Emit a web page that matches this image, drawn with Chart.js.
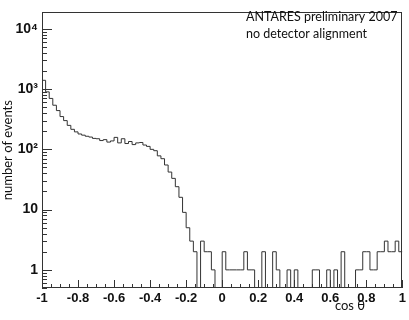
<!DOCTYPE html>
<html>
<head>
<meta charset="utf-8">
<script src="https://cdn.jsdelivr.net/npm/chart.js@4.4.0/dist/chart.umd.min.js"></script>
<style>
  html, body { margin: 0; padding: 0; background: #fff; }
  canvas { display: block; }
</style>
</head>
<body>
<canvas id="myChart" width="409" height="320"></canvas>
<script>
// histogram of cos(theta): 100 bins of 0.02 from -1 to 1
const binStart = -1;
const binWidth = 0.02;
const counts = [
  1400, 900, 700, 540, 440, 350, 300, 250, 215, 195,
  180, 172, 165, 160, 152, 150, 140, 145, 132, 138,
  158, 128, 150, 125, 135, 120, 128, 130, 118, 112,
  100, 95, 78, 70, 55, 42, 33, 24, 16, 9,
  5, 3, 2, 0, 3, 2, 2, 1, 0, 0,
  2, 1, 1, 1, 1, 1, 2, 1, 1, 0,
  0, 2, 0, 0, 2, 1, 0, 0, 1, 0,
  1, 0, 0, 0, 0, 1, 1, 0, 0, 1,
  0, 1, 0, 2, 0, 0, 0, 1, 1, 2,
  2, 1, 1, 2, 2, 3, 2, 2, 3, 2
];

// axes
const xMin = -1, xMax = 1, xStep = 0.2;
const yMin = 0.5, yMax = 18750;
const yTicks = [1, 10, 100, 1000, 10000];
const yTickLabels = ['1', '10', '10\u00B2', '10\u00B3', '10\u2074'];

const xTitle = 'cos \u03B8';
const yTitle = 'number of events';
const noteLines = ['ANTARES preliminary 2007', 'no detector alignment'];

document.addEventListener('DOMContentLoaded', function() {
  const ctx = document.getElementById('myChart').getContext('2d');

  // empty bins sit on the bottom of the log axis, like ROOT does
  const points = counts.map((c, i) => ({ x: binStart + i * binWidth, y: c > 0 ? c : yMin }));
  points.push({ x: binStart + counts.length * binWidth, y: points[points.length - 1].y });

  // ROOT-like frame, inner tick marks and texts
  const rootStyle = {
    id: 'rootStyle',
    afterDraw(chart) {
      const c = chart.ctx;
      const a = chart.chartArea;
      const sx = chart.scales.x, sy = chart.scales.y;
      c.save();
      c.strokeStyle = '#333';
      c.lineWidth = 1;
      c.strokeRect(Math.round(a.left) + 0.5, Math.round(a.top) + 0.5,
                   Math.round(a.right - a.left) - 1, Math.round(a.bottom - a.top) - 1);

      c.beginPath();
      for (let k = 0; k <= 40; k++) {
        const px = Math.round(sx.getPixelForValue(xMin + k * 0.05)) + 0.5;
        const len = k % 4 === 0 ? 8 : 4;
        c.moveTo(px, a.bottom);
        c.lineTo(px, a.bottom - len);
      }
      for (let e = -1; e <= 4; e++) {
        for (let m = 1; m <= 9; m++) {
          const v = m * Math.pow(10, e);
          if (v < yMin || v > yMax) continue;
          const py = Math.round(sy.getPixelForValue(v)) + 0.5;
          c.moveTo(a.left, py);
          c.lineTo(a.left + (m === 1 ? 10 : 5), py);
        }
      }
      c.stroke();

      c.fillStyle = '#111';
      c.font = '12.5px Lato';
      c.textAlign = 'left';
      c.textBaseline = 'alphabetic';
      c.fillText(noteLines[0], 246, 21);
      c.fillText(noteLines[1], 246, 38);

      c.font = '13px Lato';
      c.textAlign = 'center';
      c.textBaseline = 'middle';
      c.fillText(xTitle, 350, 306);
      c.translate(8, (a.top + a.bottom) / 2);
      c.rotate(-Math.PI / 2);
      c.fillText(yTitle, 0, 0);
      c.restore();
    }
  };

  new Chart(ctx, {
    type: 'line',
    data: {
      datasets: [{
        data: points,
        stepped: true,
        borderColor: '#333',
        borderWidth: 1,
        pointRadius: 0,
        fill: false
      }]
    },
    options: {
      responsive: false,
      animation: false,
      events: [],
      layout: { padding: { top: 1, right: 5, left: 0, bottom: 0 } },
      scales: {
        x: {
          type: 'linear',
          min: xMin,
          max: xMax,
          grid: { display: false, drawTicks: false },
          border: { display: false },
          ticks: {
            stepSize: xStep,
            autoSkip: false,
            maxRotation: 0,
            padding: 3,
            color: '#111',
            font: { family: 'Liberation Sans', size: 13, weight: 'bold' },
            callback: v => String(Number(v.toFixed(1)))
          },
          afterFit: s => { s.height = 32; }
        },
        y: {
          type: 'logarithmic',
          min: yMin,
          max: yMax,
          grid: { display: false, drawTicks: false },
          border: { display: false },
          afterBuildTicks: s => { s.ticks = yTicks.map(v => ({ value: v })); },
          ticks: {
            autoSkip: false,
            padding: 4,
            color: '#111',
            font: { family: 'Liberation Sans', size: 14, weight: 'bold' },
            callback: v => yTickLabels[yTicks.indexOf(v)]
          },
          afterFit: s => { s.width = 42; }
        }
      },
      plugins: {
        legend: { display: false },
        tooltip: { enabled: false }
      }
    },
    plugins: [rootStyle]
  });
});
</script>
</body>
</html>
